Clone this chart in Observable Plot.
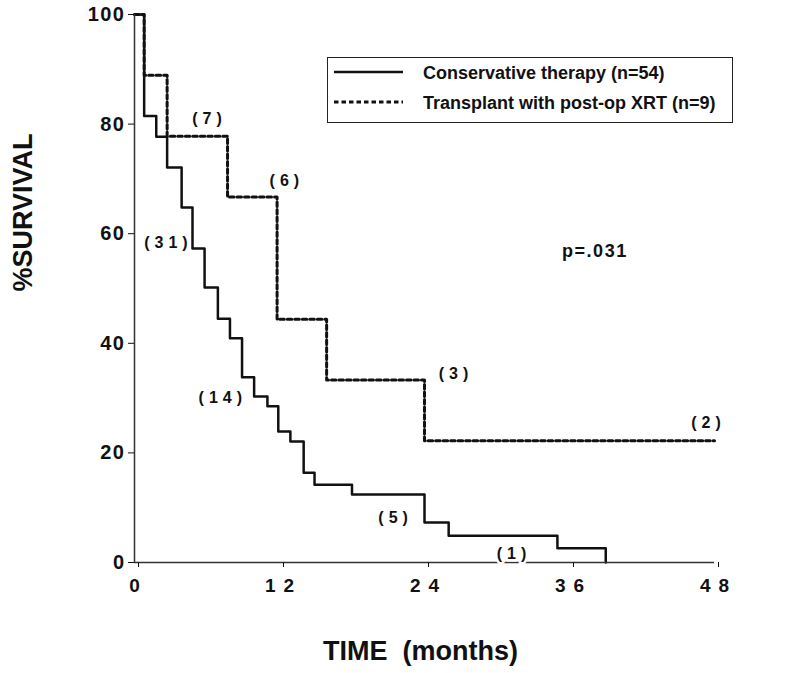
<!DOCTYPE html>
<html>
<head>
<meta charset="utf-8">
<script src="https://cdn.jsdelivr.net/npm/d3@7"></script>
<script src="https://cdn.jsdelivr.net/npm/@observablehq/plot@0.6"></script>
<style>
  html, body { margin: 0; padding: 0; background: #fff; }
  #wrap { position: relative; width: 800px; height: 673px; font-family: "Liberation Sans", Arial, sans-serif; color: #111; }
  #legend { position: absolute; left: 327px; top: 57px; width: 404px; height: 64px; border: 1.5px solid #222; background: #fff; }
  #legend svg { position: absolute; left: 0; top: 0; }
  #legend .lab { position: absolute; left: 95px; font-size: 18px; font-weight: bold; white-space: nowrap; line-height: 1; }
  g[aria-label="x-axis tick label"] text { letter-spacing: 8px; }
  g[aria-label="y-axis tick label"] text { letter-spacing: 1.5px; }
</style>
</head>
<body>
<div id="wrap"></div>
<script>
// Conservative therapy (n=54): step times (months) and % survival
const consTime = [0, 0.8, 1.8, 2.7, 3.9, 4.8, 5.8, 6.9, 7.9, 8.9, 9.9, 11.0, 11.9, 12.9, 14.0, 14.9, 18.0, 24.0, 26.0, 35.0, 39.0];
const consSurv = [100, 81.5, 77.7, 72.1, 64.8, 57.3, 50.2, 44.5, 40.9, 33.8, 30.3, 28.5, 23.9, 22.1, 16.4, 14.2, 12.4, 7.3, 4.9, 2.6, 0];
// Transplant with post-op XRT (n=9)
const trTime = [0, 0.8, 2.7, 7.7, 11.8, 15.9, 24.0, 48.0];
const trSurv = [100, 88.9, 77.8, 66.7, 44.4, 33.3, 22.2, 22.2];
// numbers at risk annotations
const annText = ["(7)", "(6)", "(31)", "(14)", "(5)", "(1)", "(3)", "(2)"];
const annX = [6.0, 12.4, 2.6, 7.1, 21.4, 31.2, 26.4, 47.3];
const annY = [81.0, 69.7, 58.4, 30.1, 8.2, 1.6, 34.5, 25.5];
// axis ticks
const xTicks = [0, 12, 24, 36, 48];
const yTicks = [0, 20, 40, 60, 80, 100];
// texts
const pText = ["p=.031"];
const pX = [38.1], pY = [56.8];
const xTitle = "TIME  (months)";
const yTitle = "%SURVIVAL";
const seriesNames = ["Conservative therapy (n=54)", "Transplant with post-op XRT (n=9)"];

const cons = consTime.map((t, i) => ({t, s: consSurv[i]}));
const tr = trTime.map((t, i) => ({t, s: trSurv[i]}));
const ann = annText.map((txt, i) => ({txt, x: annX[i], y: annY[i]}));

const chart = Plot.plot({
  width: 800,
  height: 673,
  marginLeft: 134,
  marginRight: 86,
  marginTop: 14,
  marginBottom: 111,
  x: {domain: [0, 48]},
  y: {domain: [0, 100]},
  style: {fontFamily: "'Liberation Sans', Arial, sans-serif", color: "#111", background: "#fff", overflow: "visible"},
  marks: [
    Plot.line(tr, {x: "t", y: "s", curve: "step-after", stroke: "#111", strokeWidth: 3, strokeDasharray: "4.5,3"}),
    Plot.line(cons, {x: "t", y: "s", curve: "step-after", stroke: "#111", strokeWidth: 2.5}),
    Plot.ruleX([0], {stroke: "#333", strokeWidth: 1.5}),
    Plot.ruleY([0], {stroke: "#333", strokeWidth: 1.5}),
    Plot.axisX({ticks: xTicks, tickSize: 5, tickPadding: 11, fontSize: 19, fontWeight: "bold", label: null, dx: 4}),
    Plot.axisY({ticks: yTicks, tickSize: 6, tickPadding: 3, fontSize: 20, fontWeight: "bold", label: null}),
    Plot.text(ann, {x: "x", y: "y", text: "txt", fontSize: 16, fontWeight: "bold", fill: "#111", stroke: "#fff", strokeWidth: 5, dx: 2.5}),
    Plot.text(pText, {x: pX, y: pY, text: d => d, fontSize: 18, fontWeight: "bold", fill: "#111"}),
    Plot.text([xTitle], {frameAnchor: "bottom", lineAnchor: "bottom", dy: 97, dx: -4, text: d => d, fontSize: 27, fontWeight: "bold", fill: "#111"}),
    Plot.text([yTitle], {frameAnchor: "left", rotate: -90, dx: -111, dy: 3, text: d => d, fontSize: 27, fontWeight: "bold", fill: "#111"})
  ]
});
// letter spacing on annotations
chart.querySelectorAll("text").forEach(t => {
  if (t.textContent.startsWith("(")) t.style.letterSpacing = "5px";
  if (t.textContent === "p=.031") t.style.letterSpacing = "1.5px";
});
const wrap = document.getElementById("wrap");
wrap.appendChild(chart);

const legend = document.createElement("div");
legend.id = "legend";
legend.innerHTML = `<svg width="404" height="64">
  <line x1="6" x2="75" y1="14" y2="14" stroke="#111" stroke-width="2.5"/>
  <line x1="6" x2="75" y1="44" y2="44" stroke="#111" stroke-width="3" stroke-dasharray="4.5,3"/>
</svg>
<div class="lab" style="top:6px">${seriesNames[0]}</div>
<div class="lab" style="top:36px">${seriesNames[1]}</div>`;
wrap.appendChild(legend);
</script>
</body>
</html>
